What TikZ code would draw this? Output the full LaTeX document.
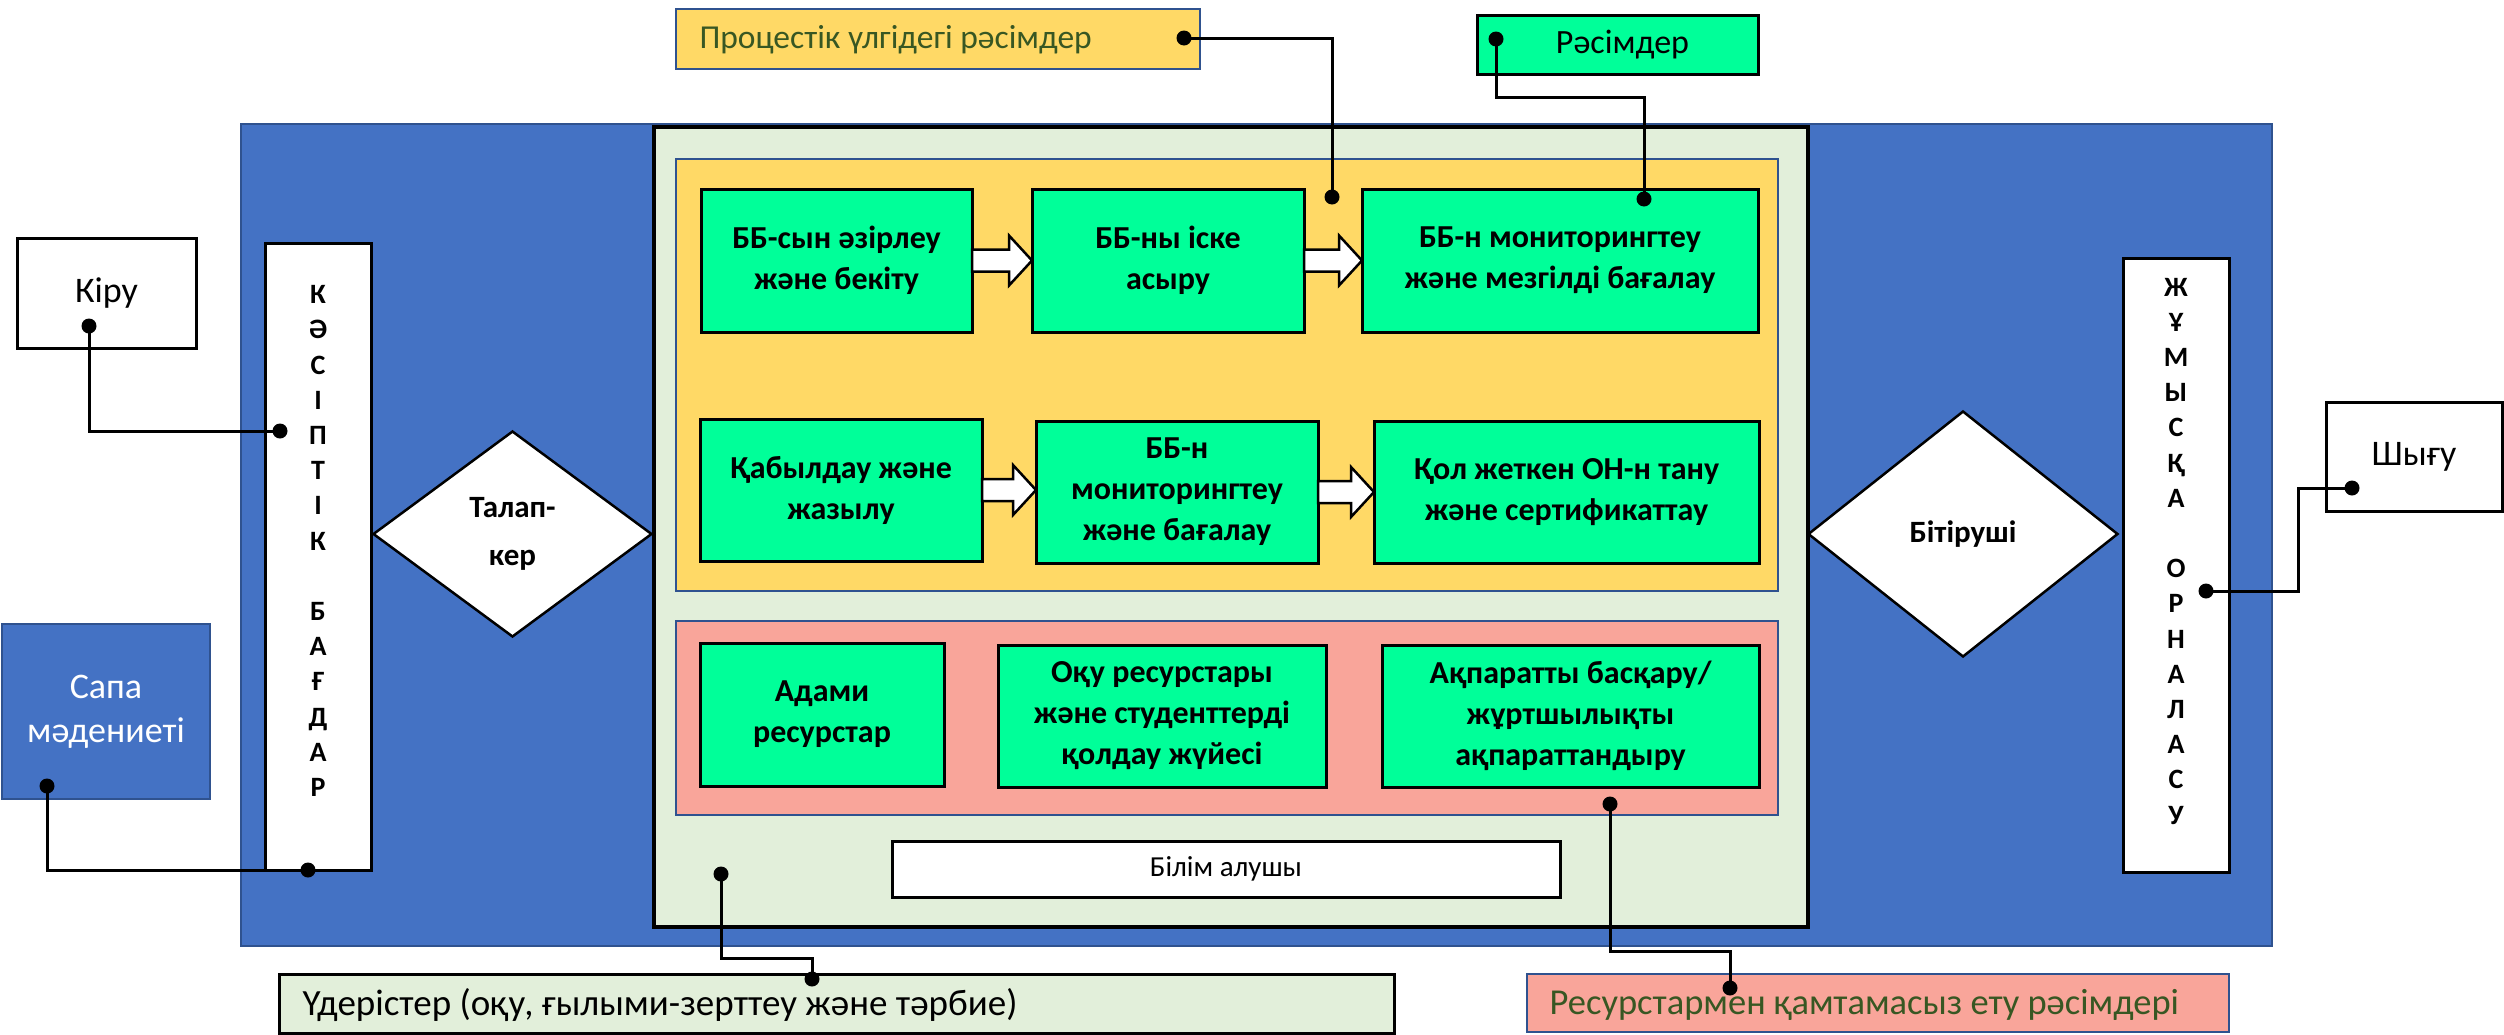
\documentclass[tikz,border=0pt]{standalone}
\usepackage{fontspec}
\setmainfont{Carlito}
\usetikzlibrary{calc,shapes.geometric}
\definecolor{bluefill}{HTML}{4472C4}
\definecolor{blueline}{HTML}{2F528F}
\definecolor{lgreen}{HTML}{E2EFDA}
\definecolor{yel}{HTML}{FFD966}
\definecolor{pinkf}{HTML}{F9A59A}
\definecolor{grn}{RGB}{0,255,153}
\definecolor{dgreen}{HTML}{385723}
\newcommand{\myfs}[2]{\fontsize{#1}{#2}\selectfont}
\newcommand{\blockarrow}[2]{%
  \draw[barrow] let \p1=(#1.east), \p2=(#2.west) in
    (\x1,\y1+11pt) -- (\x2-23pt,\y1+11pt) -- (\x2-23pt,\y1+25pt) -- (\x2,\y1)
    -- (\x2-23pt,\y1-25pt) -- (\x2-23pt,\y1-11pt) -- (\x1,\y1-11pt) -- cycle;}
\begin{document}
\begin{tikzpicture}[x=1pt,y=-1pt,
  bx/.style 2 args={rectangle,inner sep=0pt,outer sep=0pt,minimum width=#1,minimum height=#2},
  gbox/.style={draw=black,line width=3pt,fill=grn,text=black,align=center,font=\myfs{32}{41}\bfseries},
  wbox/.style={draw=black,line width=3pt,fill=white,text=black,align=center},
  panel/.style={draw=blueline,line width=2.5pt},
  lbl/.style={font=\myfs{36}{44}},
  barrow/.style={draw=black,fill=white,line width=2.5pt,line join=miter},
  conn/.style={draw=black,line width=3pt},
  dia/.style={diamond,draw=black,line width=2.5pt,fill=white,inner sep=0pt,align=center,font=\myfs{31}{48}\bfseries},
  bartxt/.style={align=center,font=\myfs{28}{35.2}\bfseries}]
\useasboundingbox (0,0) rectangle (2504,1034);
% big blue panel and containers
\node[bx={2031pt}{822pt},panel,fill=bluefill] (blue) at (1256.5,535) {};
\node[bx={1154pt}{800pt},draw=black,line width=3.5pt,fill=lgreen] (cont) at (1231,527) {};
\node[bx={1102pt}{432pt},panel,fill=yel] (yellowp) at (1227,375) {};
\node[bx={1102pt}{194pt},panel,fill=pinkf] (pinkp) at (1227,718) {};
% process boxes
\node[bx={271pt}{143pt},gbox] (b1) at (836.5,260.5) {ББ-сын әзірлеу\\және бекіту};
\node[bx={272pt}{143pt},gbox] (b2) at (1168,260.5) {ББ-ны іске\\асыру};
\node[bx={396pt}{143pt},gbox] (b3) at (1560,260.5) {ББ-н мониторингтеу\\және мезгілді бағалау};
\node[bx={282pt}{142pt},gbox] (b4) at (841,490) {Қабылдау және\\жазылу};
\node[bx={282pt}{142pt},gbox] (b5) at (1177,492) {ББ-н\\мониторингтеу\\және бағалау};
\node[bx={385pt}{142pt},gbox] (b6) at (1566.5,492) {Қол жеткен ОН-н тану\\және сертификаттау};
% resource boxes
\node[bx={244pt}{143pt},gbox] (adami) at (822,714.5) {Адами\\ресурстар};
\node[bx={328pt}{142pt},gbox] (oku) at (1162,716) {Оқу ресурстары\\және студенттерді\\қолдау жүйесі};
\node[bx={377pt}{142pt},gbox] (akp) at (1570.5,716) {Ақпаратты басқару/\\жұртшылықты\\ақпараттандыру};
\node[bx={668pt}{56pt},wbox,font=\myfs{29}{35}] (bilim) at (1226,869) {Білім алушы};
% block arrows
\blockarrow{b1}{b2}
\blockarrow{b2}{b3}
\blockarrow{b4}{b5}
\blockarrow{b5}{b6}
% vertical bars
\node[bx={106pt}{627pt},wbox] (kasip) at (318,556.5) {};
\node[bartxt] (kasiptxt) at (318,541) {К\\Ә\\С\\І\\П\\Т\\І\\К\\[35.2pt]Б\\А\\Ғ\\Д\\А\\Р};
\node[bx={106pt}{614pt},wbox] (jumys) at (2176,565) {};
\node[bartxt] (jumystxt) at (2176,551) {Ж\\Ұ\\М\\Ы\\С\\Қ\\А\\[35.2pt]О\\Р\\Н\\А\\Л\\А\\С\\У};
% diamonds
\node[dia,minimum width=279pt,minimum height=206pt] (talap) at (512.5,534) {Талап-\\кер};
\node[dia,minimum width=310pt,minimum height=246pt] (bitir) at (1963,534) {Бітіруші};
% outside boxes
\node[bx={524pt}{60pt},panel,fill=yel] (proc) at (938,39) {};
\node[font=\myfs{33.5}{40},text=dgreen,anchor=west] (proctxt) at (696,40) {Процестік үлгідегі рәсімдер};
\node[bx={281pt}{59pt},draw=black,line width=3pt,fill=grn,font=\myfs{34}{40}] (ras) at (1617.5,44.5) {\hspace*{10pt}Рәсімдер};
\node[bx={179pt}{110pt},wbox,lbl] (kiru) at (106.5,293) {Кіру};
\node[bx={208pt}{175pt},panel,fill=bluefill,text=white,align=center,lbl] (sapa) at (106,711.5) {Сапа\\мәдениеті};
\node[bx={176pt}{109pt},wbox,lbl] (shygu) at (2414,456.5) {Шығу};
\node[bx={1115pt}{59pt},draw=black,line width=3pt,fill=lgreen] (uder) at (836.5,1003.5) {};
\node[font=\myfs{37}{44},anchor=west] (udertxt) at (299,1005) {Үдерістер (оқу, ғылыми-зерттеу және тәрбие)};
\node[bx={702pt}{58pt},panel,fill=pinkf] (resurs) at (1878,1003) {};
\node[font=\myfs{36.5}{44},text=dgreen,anchor=west] (resurstxt) at (1546,1005) {Ресурстармен қамтамасыз ету рәсімдері};
% connector end points
\coordinate (dKiru) at (89,326);
\coordinate (dKas1) at (280,431);
\coordinate (dSapa) at (47,786);
\coordinate (dKas2) at (308,870);
\coordinate (dProc) at (1184,38);
\coordinate (dB23) at (1332,197);
\coordinate (dRas) at (1496,39);
\coordinate (dB3) at (1644,199);
\coordinate (dCont) at (721,874);
\coordinate (dUder) at (812,979);
\coordinate (dPink) at (1610,804);
\coordinate (dRes) at (1730,988);
\coordinate (dShygu) at (2352,488);
\coordinate (dJum) at (2206,591);
% connectors
\draw[conn] (dKiru) |- (dKas1);
\draw[conn] (dSapa) |- (dKas2);
\draw[conn] (dProc) -| (dB23);
\draw[conn] (dRas) -- ++(0,58) -| (dB3);
\draw[conn] (dCont) -- ++(0,84) -| (dUder);
\draw[conn] (dPink) -- ++(0,147) -| (dRes);
\draw[conn] (dShygu) -- ++(-54,0) |- (dJum);
\foreach \d in {dKiru,dKas1,dSapa,dKas2,dProc,dB23,dRas,dB3,dCont,dUder,dPink,dRes,dShygu,dJum}
  \fill (\d) circle (7.5pt);
\end{tikzpicture}
\end{document}
